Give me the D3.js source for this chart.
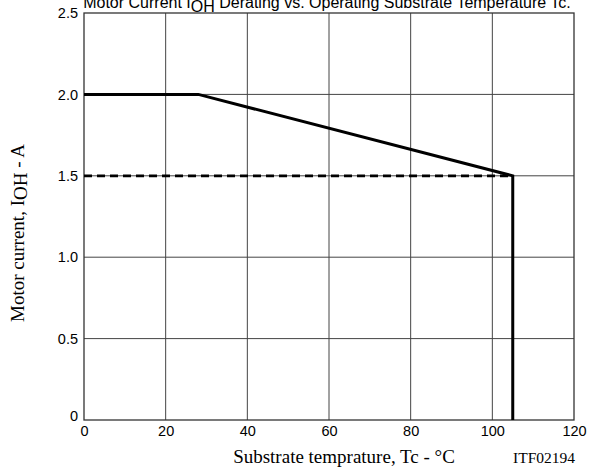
<!DOCTYPE html>
<html><head><meta charset="utf-8">
<script src="https://cdn.jsdelivr.net/npm/d3@7"></script>
<style>body{margin:0;background:#fff}</style>
</head><body><svg id="c" width="597" height="474"></svg>
<script>
const xTicks = [0, 20, 40, 60, 80, 100, 120];
const yTicks = [0, 0.5, 1.0, 1.5, 2.0, 2.5];
const yTickLabels = ["0", "0.5", "1.0", "1.5", "2.0", "2.5"];
const deratingTemp = [0, 28, 105, 105];
const deratingCurrent = [2.0, 2.0, 1.5, 0];
const ratedTemp = [0, 105];
const ratedCurrent = [1.5, 1.5];

const svg = d3.select("#c");
const m = {l: 84, r: 574, t: 13, b: 420};
const x = d3.scaleLinear().domain([0, 120]).range([m.l, m.r]);
const y = d3.scaleLinear().domain([0, 2.5]).range([m.b, m.t]);

// grid
svg.append("g").selectAll("line").data(xTicks.slice(1, -1)).join("line")
  .attr("x1", d => x(d)).attr("x2", d => x(d)).attr("y1", y(0)).attr("y2", y(2.5))
  .attr("stroke", "#444").attr("stroke-width", 1);
svg.append("g").selectAll("line").data(yTicks.slice(1, -1)).join("line")
  .attr("y1", d => y(d)).attr("y2", d => y(d)).attr("x1", x(0)).attr("x2", x(120))
  .attr("stroke", "#444").attr("stroke-width", 1);
svg.append("rect").attr("x", x(0)).attr("y", y(2.5)).attr("width", x(120) - x(0)).attr("height", y(0) - y(2.5))
  .attr("fill", "none").attr("stroke", "#333").attr("stroke-width", 1.3);

// axes labels via d3 axes
const xa = svg.append("g").attr("transform", `translate(0,${y(0)})`)
  .call(d3.axisBottom(x).tickValues(xTicks).tickSize(0).tickPadding(6));
const ya = svg.append("g").attr("transform", `translate(${x(0)},0)`)
  .call(d3.axisLeft(y).tickValues(yTicks).tickSize(0).tickPadding(6).tickFormat((d, i) => yTickLabels[i]));
[xa, ya].forEach(g => {
  g.select(".domain").remove();
  g.selectAll("text").attr("font-family", "Liberation Sans, Arial, sans-serif").attr("font-size", 14.5).attr("fill", "#000");
});
ya.selectAll("text").filter(d => d === 0).attr("dy", "0.05em");

// data
const line = d3.line().x(d => x(d[0])).y(d => y(d[1]));
svg.append("path").datum(ratedTemp.map((t, i) => [t, ratedCurrent[i]]))
  .attr("d", line).attr("fill", "none").attr("stroke", "#000").attr("stroke-width", 2.8)
  .attr("stroke-dasharray", "8,5");
svg.append("path").datum(deratingTemp.map((t, i) => [t, deratingCurrent[i]]))
  .attr("d", line).attr("fill", "none").attr("stroke", "#000").attr("stroke-width", 3)
  .attr("stroke-linejoin", "miter");

// title
const title = svg.append("text").attr("x", 327).attr("y", 8).attr("text-anchor", "middle")
  .attr("font-family", "Liberation Sans, Arial, sans-serif").attr("font-size", 16).attr("fill", "#000");
title.append("tspan").text("Motor Current I");
title.append("tspan").attr("dy", 4).text("OH");
title.append("tspan").attr("dy", -4).text(" Derating vs. Operating Substrate Temperature Tc.");

// y label
const yl = svg.append("text").attr("transform", `translate(24,233) rotate(-90)`).attr("text-anchor", "middle")
  .attr("font-family", "Liberation Serif, Times New Roman, serif").attr("font-size", 19).attr("fill", "#000");
yl.append("tspan").text("Motor current, I");
yl.append("tspan").attr("dy", 3).text("OH");
yl.append("tspan").attr("dy", -3).text(" - A");

svg.append("text").attr("x", 344).attr("y", 463).attr("text-anchor", "middle")
  .attr("font-family", "Liberation Serif, Times New Roman, serif").attr("font-size", 19).attr("fill", "#000")
  .text("Substrate temprature, Tc - °C");
svg.append("text").attr("x", 575).attr("y", 463).attr("text-anchor", "end")
  .attr("font-family", "Liberation Serif, Times New Roman, serif").attr("font-size", 15.5).attr("fill", "#000")
  .text("ITF02194");
</script></body></html>
